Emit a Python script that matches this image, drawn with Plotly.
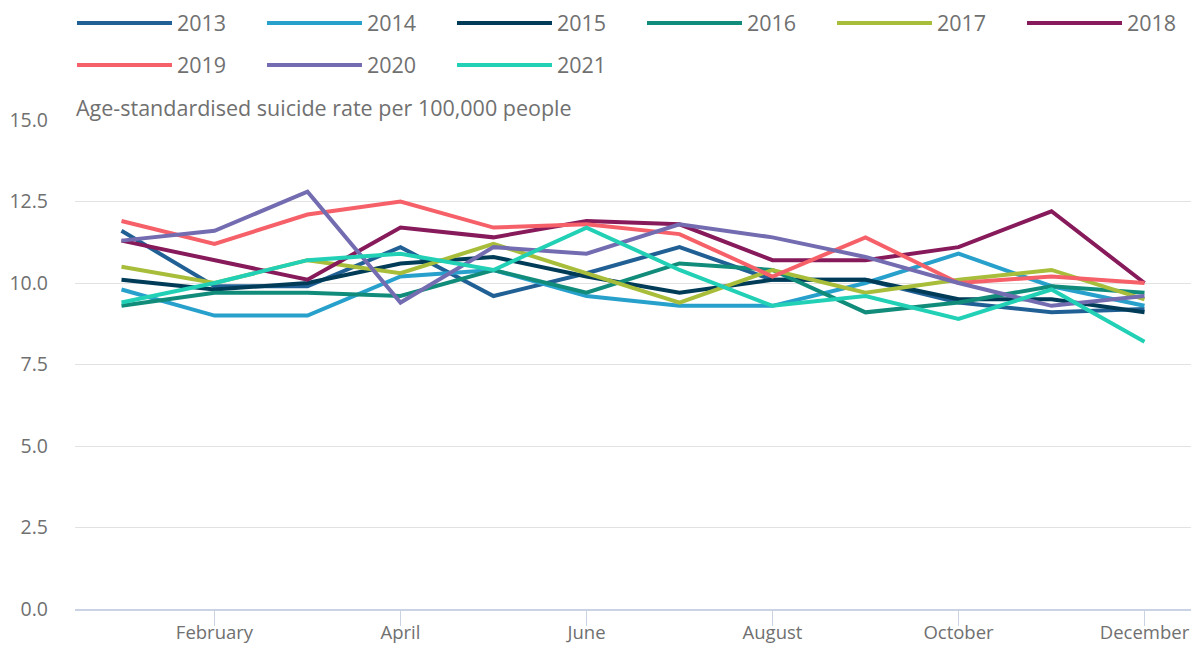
import plotly.graph_objects as go

months = ["January", "February", "March", "April", "May", "June", "July",
          "August", "September", "October", "November", "December"]
month_idx = list(range(1, 13))

tick_vals = [2, 4, 6, 8, 10, 12]
tick_text = ["February", "April", "June", "August", "October", "December"]
y_ticks = [0, 2.5, 5, 7.5, 10, 12.5, 15]

y2013 = [11.6, 9.9, 9.9, 11.1, 9.6, 10.3, 11.1, 10.1, 10.1, 9.4, 9.1, 9.2]
y2014 = [9.8, 9.0, 9.0, 10.2, 10.4, 9.6, 9.3, 9.3, 10.0, 10.9, 9.9, 9.3]
y2015 = [10.1, 9.8, 10.0, 10.6, 10.8, 10.2, 9.7, 10.1, 10.1, 9.5, 9.5, 9.1]
y2016 = [9.3, 9.7, 9.7, 9.6, 10.4, 9.7, 10.6, 10.4, 9.1, 9.4, 9.9, 9.7]
y2017 = [10.5, 10.0, 10.7, 10.3, 11.2, 10.3, 9.4, 10.4, 9.7, 10.1, 10.4, 9.5]
y2018 = [11.3, 10.7, 10.1, 11.7, 11.4, 11.9, 11.8, 10.7, 10.7, 11.1, 12.2, 10.0]
y2019 = [11.9, 11.2, 12.1, 12.5, 11.7, 11.8, 11.5, 10.2, 11.4, 10.0, 10.2, 10.0]
y2020 = [11.3, 11.6, 12.8, 9.4, 11.1, 10.9, 11.8, 11.4, 10.8, 10.0, 9.3, 9.6]
y2021 = [9.4, 10.0, 10.7, 10.9, 10.4, 11.7, 10.4, 9.3, 9.6, 8.9, 9.8, 8.2]

series = [
    ("2013", y2013, "#206095", "legend"),
    ("2014", y2014, "#27a0cc", "legend"),
    ("2015", y2015, "#003c57", "legend"),
    ("2016", y2016, "#118c7b", "legend"),
    ("2017", y2017, "#a8bd3a", "legend"),
    ("2018", y2018, "#871a5b", "legend"),
    ("2019", y2019, "#f66068", "legend2"),
    ("2020", y2020, "#746cb1", "legend2"),
    ("2021", y2021, "#22d0b6", "legend2"),
]

fig = go.Figure()
for name, vals, color, leg in series:
    fig.add_trace(go.Scatter(
        x=month_idx, y=vals, name=name, mode="lines",
        line=dict(color=color, width=4), legend=leg,
        text=months, hovertemplate="%{text}: %{y}<extra>" + name + "</extra>",
    ))

font_family = "Open Sans, Liberation Sans, sans-serif"
text_color = "#707070"

plot_top, plot_h = 120, 489

def leg(yc):
    return dict(
        orientation="h", x=-0.0027, xanchor="left",
        y=1 + (plot_top - yc) / plot_h, yanchor="middle",
        entrywidth=80, entrywidthmode="pixels", itemwidth=95,
        font=dict(size=21.5, color=text_color, family=font_family),
        bgcolor="rgba(0,0,0,0)",
    )

fig.update_layout(
    width=1195, height=646,
    margin=dict(l=75, r=4, t=plot_top, b=646 - plot_top - plot_h, autoexpand=False),
    paper_bgcolor="white", plot_bgcolor="white",
    font=dict(family=font_family, color=text_color, size=20),
    showlegend=True,
    legend=leg(23),
    legend2=leg(65),
    xaxis=dict(
        range=[0.5, 12.5], tickmode="array", tickvals=tick_vals, ticktext=tick_text,
        showgrid=False, zeroline=False, showline=True, linecolor="#c9d3e3", linewidth=1.5,
        ticks="outside", ticklen=15, tickcolor="#c9d3e3", tickwidth=1,
        ticklabelstandoff=-9,
        tickfont=dict(size=18.5, color=text_color),
    ),
    yaxis=dict(
        range=[0, 15], tickmode="array", tickvals=y_ticks,
        tickformat=".1f", showgrid=True, gridcolor="#e2e2e2", gridwidth=1,
        zeroline=False, showline=False, ticks="", ticklabelstandoff=26,
        tickfont=dict(size=19.5, color=text_color),
    ),
    annotations=[dict(
        text="Age-standardised suicide rate per 100,000 people",
        xref="paper", yref="paper", x=0.0, y=1 + (plot_top - 108) / plot_h,
        xanchor="left", yanchor="middle", xshift=-1,
        showarrow=False, font=dict(size=21.5, color=text_color, family=font_family),
    )],
)

fig.write_html(
    "out.html",
    config={"displayModeBar": False},
    post_script="document.body.style.margin='0';document.body.style.padding='0';",
)
